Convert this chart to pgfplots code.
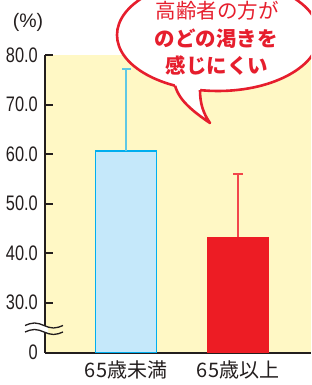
\documentclass[border=0pt]{standalone}
\usepackage{fontspec}
\usepackage{pgfplots}
\pgfplotsset{compat=1.18}
\setmainfont{Liberation Sans}
\newfontfamily\numfont[FakeStretch=0.78]{Liberation Sans}
\newfontfamily\cjk{Noto Sans CJK JP}
\definecolor{bg}{RGB}{255,248,197}
\definecolor{barblue}{RGB}{197,232,250}
\definecolor{bluedge}{RGB}{0,174,239}
\definecolor{errblue}{RGB}{95,200,228}
\definecolor{barred}{RGB}{237,28,36}
\definecolor{errred}{RGB}{242,70,75}
\definecolor{txtred}{RGB}{230,30,45}
\definecolor{axisc}{RGB}{35,30,30}
\begin{document}
\begin{tikzpicture}[x=1pt,y=1pt]
\useasboundingbox (0,0) rectangle (311,385);
\clip (0,0) rectangle (311,385);
\begin{axis}[
  at={(45pt,32.3pt)}, anchor=south west,
  scale only axis, width=266pt, height=297.7pt,
  xmin=0, xmax=266, ymin=19.9, ymax=80,
  axis background/.style={fill=bg},
  axis lines*=left,
  axis line style={-, line width=2pt, color=axisc},
  x axis line style={-}, y axis line style={-},
  ytick={19.9,30,40,50,60,70,80},
  yticklabels={0,30.0,40.0,50.0,60.0,70.0,80.0},
  xtick={81,193},
  xticklabels={65歳未満,65歳以上},
  tick align=inside,
  major tick length=8pt,
  ytick style={line width=2pt, color=axisc},
  xtick style={draw=none},
  yticklabel style={font=\numfont\fontsize{21}{21}\selectfont, inner sep=0pt, xshift=-7pt, text=axisc},
  xticklabel style={font=\cjk\fontsize{20}{20}\selectfont, inner sep=0pt, anchor=north, yshift=-8pt, text=axisc},
]
\addplot[ybar, bar shift=0pt, bar width=61pt, fill=barblue, draw=bluedge, line width=1.2pt,
  error bars/.cd, y dir=plus, y explicit, error mark=none,
  error bar style={color=errblue, line width=1.8pt}]
  coordinates {(81,60.6) +- (0,16.5)};
\addplot[ybar, bar shift=0pt, bar width=61.5pt, fill=barred, draw=none,
  error bars/.cd, y dir=plus, y explicit, error mark=none,
  error bar style={color=errred, line width=1.8pt}]
  coordinates {(193,43.3) +- (0,12.7)};
% error bar caps (mean + SD)
\addplot[only marks, mark=-, mark size=4.5pt, color=errblue, mark options={line width=1.8pt}] coordinates {(81,77.1)};
\addplot[only marks, mark=-, mark size=4.7pt, color=errred, mark options={line width=1.8pt}] coordinates {(193,56.0)};
\end{axis}
% axis break marks
\fill[white] (43,59.5) sin (44.5,59.3) -- (48,58) -- (48,51.5) -- (43,53) -- cycle;
\draw[axisc, line width=1.3pt] (25,59.5) sin (34.5,62) cos (44,59.5) sin (53.5,57) cos (63,59.5);
\draw[axisc, line width=1.3pt] (25,53) sin (34.5,55.5) cos (44,53) sin (53.5,50.5) cos (63,53);
% (%)
\node[inner sep=0pt, text=axisc, font=\fontsize{19.5}{19.5}\selectfont] at (28,363) {(\%)};
% speech bubble
\draw[txtred, line width=2.6pt, fill=white] (218,350) ellipse [x radius=101, y radius=56];
\fill[white] (175,299.3) .. controls (178,290) and (183,280) .. (210,262)
  .. controls (203,272) and (200,282) .. (200,294.9) -- (200,302) -- (175,304) -- cycle;
\draw[txtred, line width=2.6pt, line join=round] (175,299.3) .. controls (178,290) and (183,280) .. (210,262)
  .. controls (203,272) and (200,282) .. (200,294.9);
\node[inner sep=0pt, text=txtred, font=\cjk\fontsize{20.5}{20.5}\selectfont] at (217,374) {高齢者の方が};
\node[inner sep=0pt, text=txtred, font=\cjk\bfseries\fontsize{20.5}{20.5}\selectfont] at (216,346) {のどの渇きを};
\node[inner sep=0pt, text=txtred, font=\cjk\bfseries\fontsize{20.5}{20.5}\selectfont] at (217,319) {感じにくい};
\end{tikzpicture}
\end{document}
